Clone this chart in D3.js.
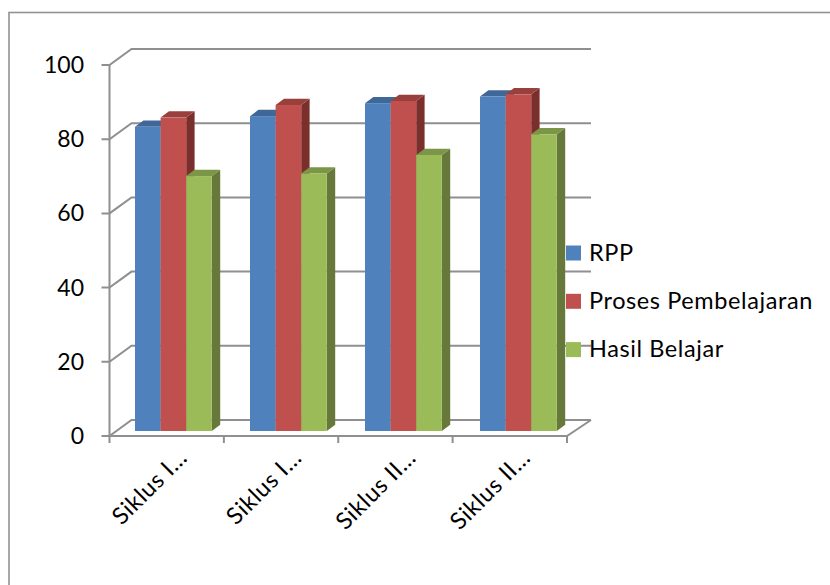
<!DOCTYPE html>
<html>
<head>
<meta charset="utf-8">
<style>
html,body{margin:0;padding:0;background:#fff;overflow:hidden}
svg{display:block}
text{font-family:"Lato",sans-serif;fill:#000}
.wide{letter-spacing:0.6px}
</style>
<script src="https://cdnjs.cloudflare.com/ajax/libs/d3/7.8.5/d3.min.js"></script>
</head>
<body>
<script>
const categories = ["Siklus I…", "Siklus I…", "Siklus II…", "Siklus II…"];
const keys = ["c1", "c2", "c3", "c4"];
const seriesNames = ["RPP", "Proses Pembelajaran", "Hasil Belajar"];
const rpp = [82.2, 85.1, 88.6, 90.4];
const proses = [84.7, 88.1, 89.2, 91];
const hasil = [68.9, 69.6, 74.6, 80.2];
const seriesValues = [rpp, proses, hasil];
const yTicks = [0, 20, 40, 60, 80, 100];
const frontColors = ["#4f81bd", "#c0504d", "#9bbb59"];
const topColors = ["#3f6797", "#99403d", "#7c9647"];
const sideColors = ["#385d8a", "#7b2f2d", "#66793a"];

const width = 830, height = 585;
const fontSize = 23.5;
const svg = d3.select("body").append("svg").attr("width", width).attr("height", height);

// Outer chart frame; its right and bottom edges run past the page
svg.append("rect").attr("x", 9).attr("y", 12.5).attr("width", 860).attr("height", 620)
  .attr("fill", "#fff").attr("stroke", "#929292").attr("stroke-width", 1.6);

// Front-plane scales and the oblique offset of the back wall
const y = d3.scaleLinear().domain([0, 100]).range([436, 65]);
const x0 = d3.scaleBand().domain(keys).range([109.5, 567]);
const wallDx = 22, wallDy = -16;
const axisColor = "#8f8f8f";

const grid = svg.append("g").attr("fill", "none").attr("stroke", axisColor).attr("stroke-width", 2);
// Back wall gridlines with their diagonal connectors, floor outline
yTicks.forEach(t => {
  grid.append("path").attr("d",
    `M${x0.range()[0] - 8},${y(t)}H${x0.range()[0]}l${wallDx},${wallDy}H${x0.range()[1] + wallDx + 2}`);
});
grid.append("path").attr("d",
  `M${x0.range()[0]},${y(100)}V${y(0) + 7}M${x0.range()[0]},${y(0)}H${x0.range()[1]}l${wallDx + 2},${wallDy}`);
keys.forEach(k => {
  grid.append("path").attr("d", `M${x0(k) + x0.bandwidth()},${y(0)}v7`);
});

// Bars: front, top and side faces, standing in the middle of the floor depth
const barBase = 431, barDx = 8.4, barDy = -6.3;
const yBar = d3.scaleLinear().domain([0, 100]).range([barBase, barBase - 370]);
const barW = 25.6;
const xGroup = d3.scaleBand().domain(keys).range([135, 595]);
const x1 = d3.scaleBand().domain(seriesNames).range([0, barW * 3]);

const bars = svg.append("g");
// Drawn left to right so each bar's side face is covered by its neighbour
keys.forEach((k, c) => {
  seriesNames.forEach((name, s) => {
    const v = seriesValues[s][c];
    const l = xGroup(k) + x1(name);
    const w = x1.bandwidth();
    const t = yBar(v);
    const g = bars.append("g");
    g.append("path").attr("fill", sideColors[s])
      .attr("d", `M${l + w},${t}l${barDx},${barDy}V${barBase + barDy}l${-barDx},${-barDy}Z`);
    g.append("path").attr("fill", topColors[s])
      .attr("d", `M${l},${t}l${barDx},${barDy}h${w}l${-barDx},${-barDy}Z`);
    g.append("rect").attr("x", l).attr("y", t).attr("width", w).attr("height", barBase - t)
      .attr("fill", frontColors[s]);
  });
});

// Value axis labels
svg.append("g").selectAll("text").data(yTicks).join("text")
  .attr("x", 84).attr("y", d => y(d) + 8)
  .attr("text-anchor", "end").attr("font-size", 23).text(d => d);

// Category labels, rotated 45 degrees and ending under each group
svg.append("g").selectAll("text").data(categories).join("text")
  .attr("class", "wide")
  .attr("text-anchor", "end").attr("font-size", fontSize)
  .attr("transform", (d, i) => `translate(${x0(keys[i]) + x0.bandwidth() / 2 + 22},${459}) rotate(-45)`)
  .text(d => d);

// Legend
const legend = svg.append("g").selectAll("g").data(seriesNames).join("g")
  .attr("transform", (d, i) => `translate(566,${245.5 + i * 48.3})`);
legend.append("rect").attr("width", 15).attr("height", 15).attr("fill", (d, i) => frontColors[i]);
legend.append("text").attr("class", "wide").attr("x", 23).attr("y", 15).attr("font-size", fontSize).text(d => d);
</script>
</body>
</html>
